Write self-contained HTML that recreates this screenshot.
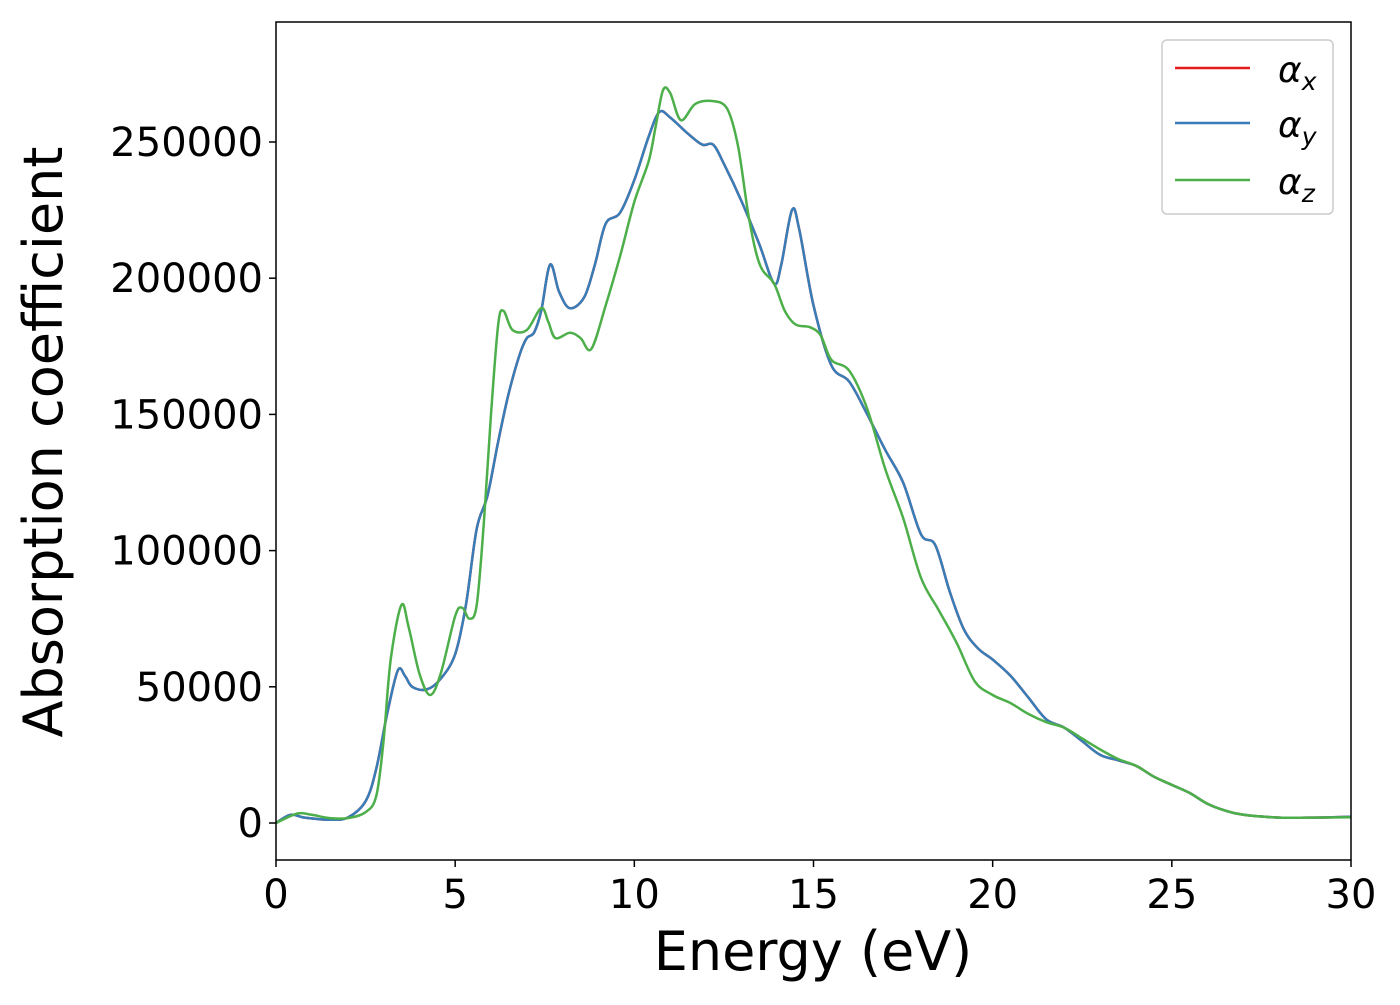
<!DOCTYPE html>
<html><head><meta charset="utf-8"><style>
body{margin:0;background:#fff;}
svg{font-family:"DejaVu Sans","Liberation Sans",sans-serif;}
</style></head><body>
<svg id="chart" width="1400" height="1000" xmlns="http://www.w3.org/2000/svg">
<rect width="1400" height="1000" fill="#fff"/>
<g id="plot"></g>
<rect x="276" y="22" width="1075" height="838" fill="none" stroke="#000" stroke-width="1.5"/>
<g id="xticks"></g><g id="yticks"></g>
<text x="813" y="970" font-size="54" text-anchor="middle">Energy (eV)</text>
<text transform="translate(62,442) rotate(-90)" font-size="54" text-anchor="middle">Absorption coefficient</text>
<g>
<rect x="1162" y="40" width="171" height="174" rx="5" fill="#fff" stroke="#ccc" stroke-width="1.5"/>
<line x1="1175" y1="68" x2="1250" y2="68" stroke="#e41a1c" stroke-width="2.5"/>
<text x="1278" y="82" font-size="36" font-style="italic">α<tspan font-size="25" dy="8">x</tspan></text>
<line x1="1175" y1="123" x2="1250" y2="123" stroke="#377eb8" stroke-width="2.5"/>
<text x="1278" y="137" font-size="36" font-style="italic">α<tspan font-size="25" dy="8">y</tspan></text>
<line x1="1175" y1="180" x2="1250" y2="180" stroke="#4daf4a" stroke-width="2.5"/>
<text x="1278" y="194" font-size="36" font-style="italic">α<tspan font-size="25" dy="8">z</tspan></text>
</g>
</svg>
<script>
const xTicks=[0,5,10,15,20,25,30];
const yTicks=[0,50000,100000,150000,200000,250000];
const energyXY=[0,0.4,0.8,1.5,2.0,2.5,2.8,3.1,3.4,3.6,3.8,4.2,4.6,5.0,5.3,5.6,5.9,6.2,6.5,6.8,7.0,7.2,7.4,7.65,7.9,8.2,8.6,8.9,9.2,9.6,10.0,10.4,10.7,11.0,11.5,11.9,12.2,12.5,13.0,13.5,13.9,14.1,14.4,14.6,15.0,15.5,16.0,16.5,17.0,17.5,18.0,18.4,18.8,19.2,19.6,20.0,20.5,21.0,21.5,22.0,22.5,23.0,23.5,24.0,24.5,25.0,25.5,26.0,26.5,27.0,28.0,29.0,30.0];
const alphaXY=[0,3000,2000,1200,2000,8000,20000,40000,56000,54000,50000,49000,53000,62000,80000,108000,120000,140000,158000,172000,178000,180000,188000,205000,195000,189000,193000,205000,220000,224000,236000,252000,261000,259000,253000,249000,249000,242000,228000,212000,198000,205000,225000,218000,190000,168000,162000,150000,137000,125000,106000,102000,85000,71000,64000,60000,54000,46000,38000,35000,30000,25000,23000,21000,17000,14000,11000,7000,4500,3000,2000,2000,2300];
const energyZ=[0,0.6,1.0,1.5,2.0,2.5,2.8,3.0,3.2,3.5,3.7,4.0,4.3,4.6,5.0,5.2,5.4,5.6,5.8,6.0,6.2,6.35,6.6,7.0,7.4,7.6,7.8,8.2,8.5,8.8,9.2,9.6,10.0,10.4,10.6,10.8,11.0,11.3,11.7,12.2,12.6,12.9,13.2,13.5,13.9,14.2,14.5,14.9,15.2,15.5,16.0,16.5,17.0,17.5,18.0,18.5,19.0,19.5,20.0,20.5,21.0,21.5,22.0,22.5,23.0,23.5,24.0,24.5,25.0,25.5,26.0,26.5,27.0,28.0,29.0,30.0];
const alphaZ=[0,3500,3000,1800,1800,4000,10000,30000,60000,80000,72000,55000,47000,55000,76000,79000,75000,80000,110000,150000,183000,188000,181000,181000,189000,184000,178000,180000,178000,174000,190000,208000,228000,243000,256000,269000,268000,258000,264000,265000,262000,248000,222000,205000,198000,188000,183000,182000,179000,170000,166000,152000,130000,112000,90000,78000,66000,52000,47000,44000,40000,37000,35000,31000,27000,23500,21000,17000,14000,11000,7000,4500,3000,2000,2000,2100];
const X0=276,X1=1351,Y0=823,YPER=(823-142)/250000;
function sx(v){return X0+(v/30)*(X1-X0);}
function sy(v){return Y0-v*YPER;}
const NS="http://www.w3.org/2000/svg";
function pathFor(xs,ys){
  const p=xs.map((x,i)=>[sx(x),sy(ys[i])]);
  let d="M"+p[0][0]+","+p[0][1];
  for(let i=0;i<p.length-1;i++){
    const a=p[Math.max(0,i-1)],b=p[i],c=p[i+1],e=p[Math.min(p.length-1,i+2)];
    const c1=[b[0]+(c[0]-a[0])/6,b[1]+(c[1]-a[1])/6],c2=[c[0]-(e[0]-b[0])/6,c[1]-(e[1]-b[1])/6];
    d+=" C"+c1[0].toFixed(1)+","+c1[1].toFixed(1)+" "+c2[0].toFixed(1)+","+c2[1].toFixed(1)+" "+c[0].toFixed(1)+","+c[1].toFixed(1);
  }
  return d;
}
const plot=document.getElementById("plot");
[["series-alpha-x","#e41a1c",energyXY,alphaXY],["series-alpha-y","#377eb8",energyXY,alphaXY],["series-alpha-z","#4daf4a",energyZ,alphaZ]].forEach(s=>{
  const el=document.createElementNS(NS,"path");
  el.setAttribute("d",pathFor(s[2],s[3]));
  el.setAttribute("fill","none");el.setAttribute("stroke",s[1]);el.setAttribute("stroke-width","2.5");
  
  
  plot.appendChild(el);
});
const xg=document.getElementById("xticks");
xTicks.forEach(t=>{
  const l=document.createElementNS(NS,"line");
  l.setAttribute("x1",sx(t));l.setAttribute("x2",sx(t));l.setAttribute("y1",860);l.setAttribute("y2",867);l.setAttribute("stroke","#000");l.setAttribute("stroke-width","1.5");
  
  
  xg.appendChild(l);
  const tx=document.createElementNS(NS,"text");
  tx.setAttribute("x",sx(t));tx.setAttribute("y",908);tx.setAttribute("font-size","40");tx.setAttribute("text-anchor","middle");
  tx.textContent=t;
  
  
  xg.appendChild(tx);
});
const yg=document.getElementById("yticks");
yTicks.forEach(t=>{
  const l=document.createElementNS(NS,"line");
  l.setAttribute("x1",269);l.setAttribute("x2",276);l.setAttribute("y1",sy(t));l.setAttribute("y2",sy(t));l.setAttribute("stroke","#000");l.setAttribute("stroke-width","1.5");
  
  
  yg.appendChild(l);
  const tx=document.createElementNS(NS,"text");
  tx.setAttribute("x",263);tx.setAttribute("y",sy(t)+14);tx.setAttribute("font-size","40");tx.setAttribute("text-anchor","end");
  tx.textContent=t;
  
  
  yg.appendChild(tx);
});
</script>
</body></html>
